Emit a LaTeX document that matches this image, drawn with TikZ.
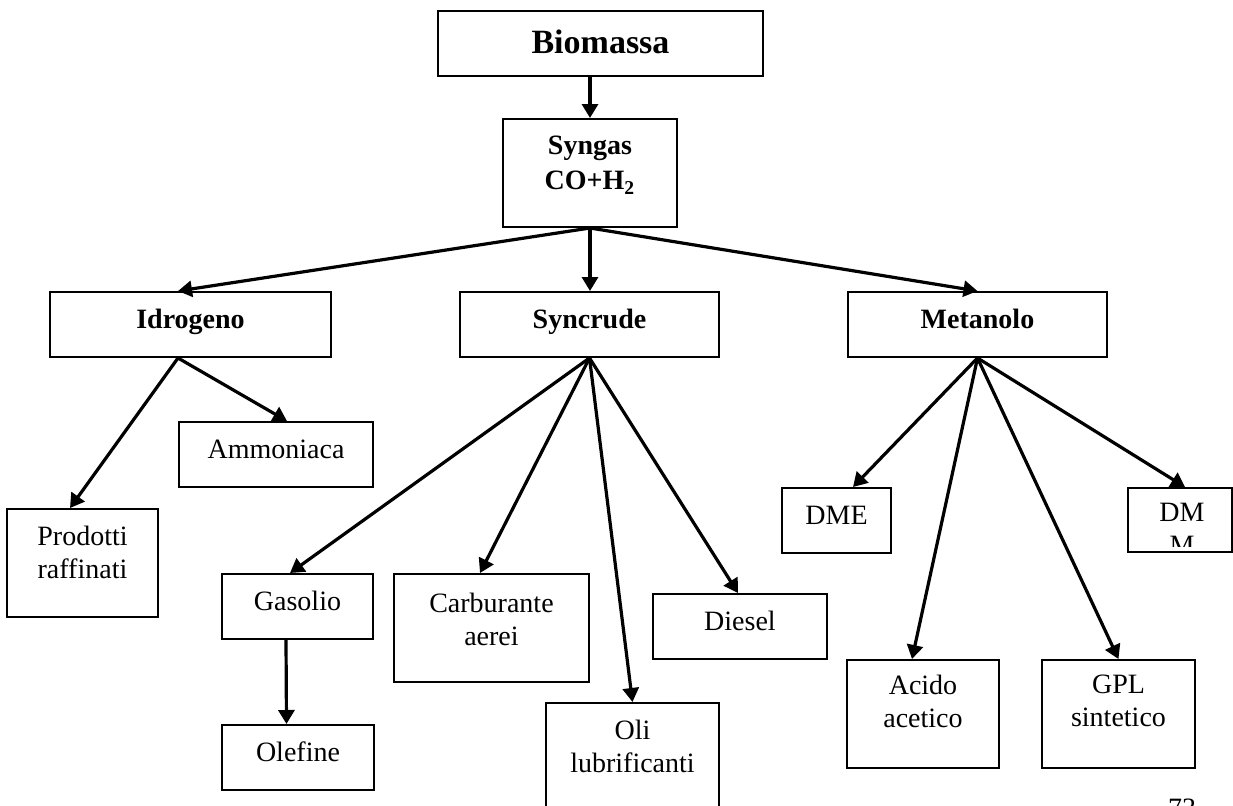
\documentclass[tikz,border=0pt]{standalone}
\usepackage{fontspec}
\setmainfont{Liberation Serif}
\usetikzlibrary{arrows.meta}
\begin{document}
\begin{tikzpicture}[x=0.5pt,y=-0.5pt,
  box/.style={draw, line width=1pt, inner sep=0pt,
    font=\fontsize{14}{16.5}\selectfont, text height=9pt, text depth=5.5pt},
  hbox/.style={box, font=\fontsize{14}{16.5}\selectfont\bfseries},
  txt/.style={inner sep=0pt, anchor=north, align=center,
    font=\fontsize{14}{16.5}\selectfont},
  arr/.style={line width=1.6pt, -{Triangle[length=7pt,width=8pt]}},
]
\useasboundingbox (0,0) rectangle (1233,805);
\clip (0,0) rectangle (1233,805);

% top of the tree
\node[box, font=\fontsize{17}{19}\selectfont\bfseries, text height=11.5pt, text depth=2pt,
  minimum width=162.5pt, minimum height=32.5pt] (biomassa) at (600.5,43.5) {Biomassa};
\node[box, minimum width=87pt, minimum height=54pt] (syngas) at (590,173) {};
\node[txt, font=\fontsize{14}{17.5}\selectfont\bfseries] (syngas-t) at (590,136) {Syngas\\CO+H\textsubscript{2}};

% second level
\node[hbox, minimum width=140.5pt, minimum height=32.5pt] (idrogeno) at (190.5,324.5) {Idrogeno};
\node[hbox, minimum width=129.5pt, minimum height=32.5pt] (syncrude) at (589.5,324.5) {Syncrude};
\node[hbox, minimum width=129.5pt, minimum height=32.5pt] (metanolo) at (977.5,324.5) {Metanolo};

% products of hydrogen
\node[box, minimum width=97pt, minimum height=32.5pt] (ammoniaca) at (276,454.5) {Ammoniaca};
\node[box, minimum width=75.5pt, minimum height=54pt] (prodotti) at (82.5,563) {};
\node[txt] (prodotti-t) at (82.5,526) {Prodotti\\raffinati};

% products of syncrude
\node[box, minimum width=75.5pt, minimum height=32.5pt] (gasolio) at (297.5,606.5) {Gasolio};
\node[box, minimum width=76pt, minimum height=32.5pt] (olefine) at (298,757.5) {Olefine};
\node[box, minimum width=97.5pt, minimum height=54pt] (carburante) at (491.5,628) {};
\node[txt] (carburante-t) at (491.5,593) {Carburante\\aerei};
\node[box, minimum width=87pt, minimum height=32.5pt] (diesel) at (740,626.5) {Diesel};
\node[box, minimum width=86.5pt, minimum height=54pt] (oli) at (632.5,757) {};
\node[txt] (oli-t) at (632.5,720) {Oli\\lubrificanti};

% products of methanol
\node[box, minimum width=54.5pt, minimum height=32.5pt] (dme) at (836.5,520.5) {DME};
\node[box, minimum width=52pt, minimum height=32pt] (dmm) at (1180,520) {};
\begin{scope}
  \clip ([yshift=3.5pt]dmm.south west) rectangle (dmm.north east);
  \node[txt] (dmm-t) at (1182,503) {DM\\M};
\end{scope}
\node[box, minimum width=76pt, minimum height=54pt] (acido) at (923,714) {};
\node[txt] (acido-t) at (923,675) {Acido\\acetico};
\node[box, minimum width=76.5pt, minimum height=54pt] (gpl) at (1118.5,714) {};
\node[txt] (gpl-t) at (1118.5,675) {GPL\\sintetico};

% page number
\node[txt] (pagenum) at (1182,799) {73};

% connectors
\draw[arr] (biomassa.south -| syngas.north) -- (syngas.north);
\draw[arr] (syngas.south) -- ([xshift=-6.25pt]idrogeno.north);
\draw[arr] (syngas.south) -- (syngas.south |- syncrude.north);
\draw[arr] (syngas.south) -- (metanolo.north);

\draw[arr] ([xshift=-6.25pt]idrogeno.south) -- ([xshift=-6.25pt]prodotti.north);
\draw[arr] ([xshift=-6.25pt]idrogeno.south) -- ([xshift=5.5pt]ammoniaca.north);

\draw[arr] (syncrude.south) -- ([xshift=-3.75pt]gasolio.north);
\draw[arr] (syncrude.south) -- ([xshift=-5.75pt]carburante.north);
\draw[arr] (syncrude.south) -- (oli.north);
\draw[arr] (syncrude.south) -- ([xshift=-1pt]diesel.north);
\draw[arr] ([xshift=-5.75pt]gasolio.south) -- ([xshift=-5.75pt]olefine.north);

\draw[arr] (metanolo.south) -- ([xshift=8.25pt]dme.north);
\draw[arr] (metanolo.south) -- ([xshift=2.5pt]dmm.north);
\draw[arr] (metanolo.south) -- ([xshift=-5.5pt]acido.north);
\draw[arr] (metanolo.south) -- (gpl.north);
\end{tikzpicture}
\end{document}
